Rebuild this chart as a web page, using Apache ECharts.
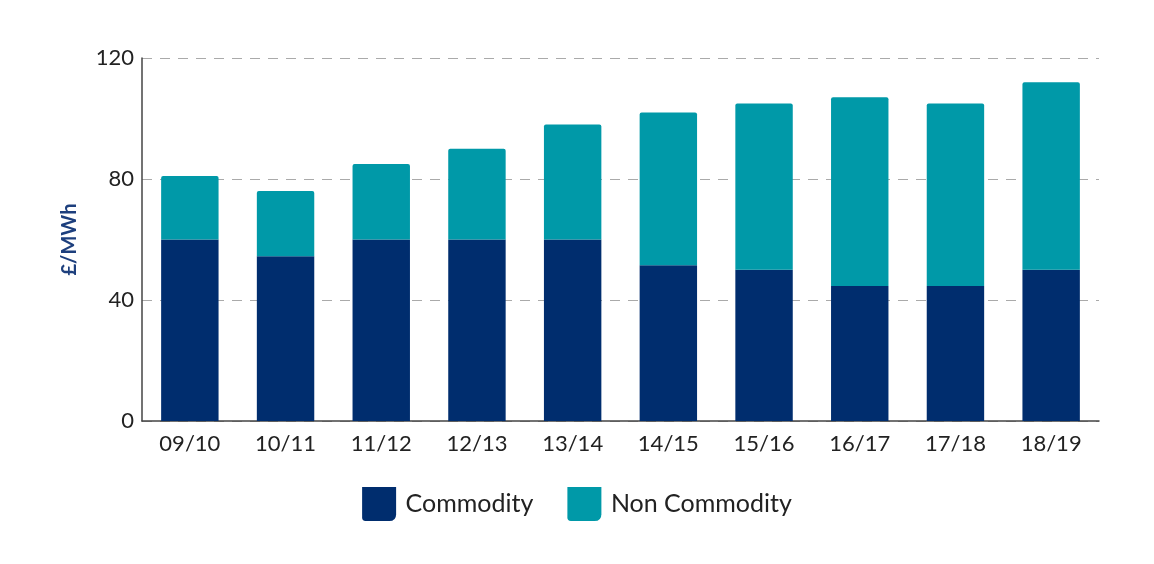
<!DOCTYPE html>
<html><head><meta charset="utf-8">
<script src="https://cdn.jsdelivr.net/npm/echarts@6/dist/echarts.min.js"></script>
<style>html,body{margin:0;padding:0;background:#fff}#c{width:1154px;height:564px}</style>
</head><body><div id="c"></div>
<script>
const categories = ['09/10','10/11','11/12','12/13','13/14','14/15','15/16','16/17','17/18','18/19'];
const commodity = [60, 54.5, 60, 60, 60, 51.5, 50, 44.6, 44.6, 50];
const nonCommodity = [21, 21.5, 25, 30, 38, 50.5, 55, 62.4, 60.4, 62];
const yTicks = [0, 40, 80, 120];

const chart = echarts.init(document.getElementById('c'));
const font = 'Lato';
chart.setOption({
  animation: false,
  grid: { left: 142, right: 55, top: 58, bottom: 143, containLabel: false },
  legend: {
    top: 482, left: 'center',
    itemWidth: 35, itemHeight: 34, itemGap: 34,
    textStyle: { fontFamily: font, fontSize: 25, color: '#222', padding: [0,0,0,4] },
    icon: 'path://M0,0 L100,0 L100,80 Q100,100 80,100 L10,100 Q0,100 0,90 Z',
    data: ['Commodity', 'Non Commodity']
  },
  xAxis: {
    type: 'category', data: categories,
    axisLine: { lineStyle: { color: '#444', width: 1.5 } },
    axisTick: { show: false },
    axisLabel: { fontFamily: font, fontSize: 22, color: '#222', margin: 12 }
  },
  yAxis: {
    type: 'value', min: yTicks[0], max: yTicks[yTicks.length-1], interval: 40,
    name: '£/MWh', nameLocation: 'middle', nameGap: 62, nameRotate: 90,
    nameTextStyle: { fontFamily: font, fontSize: 20, fontWeight: 'bold', color: '#1d3f7d' },
    axisLine: { show: true, lineStyle: { color: '#444', width: 1.5 } },
    axisTick: { show: false },
    axisLabel: { fontFamily: font, fontSize: 22, color: '#222', margin: 8 },
    splitLine: { lineStyle: { color: '#aaa', type: [10, 8], width: 1 } }
  },
  series: [
    { name: 'Commodity', type: 'bar', stack: 's', data: commodity, barWidth: '60%',
      itemStyle: { color: '#002d6e' } },
    { name: 'Non Commodity', type: 'bar', stack: 's', data: nonCommodity, barWidth: '60%',
      itemStyle: { color: '#0099a8', borderRadius: [2,2,0,0] } }
  ]
});
</script></body></html>
